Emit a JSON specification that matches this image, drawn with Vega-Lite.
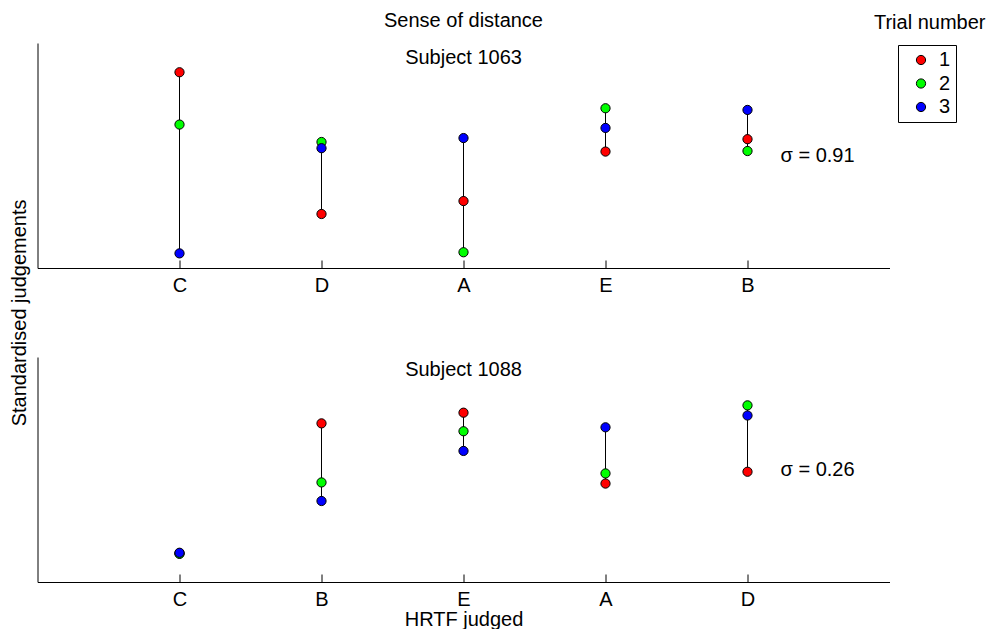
{
  "$schema": "https://vega.github.io/schema/vega-lite/v6.json",
  "padding": {"left": 9.5, "top": 11, "right": 5, "bottom": 5},
  "datasets": {
    "judgements": [
      {"subject": "1063", "hrtf": "C", "trial": "1", "z": 1.48},
      {"subject": "1063", "hrtf": "C", "trial": "2", "z": 0.55},
      {"subject": "1063", "hrtf": "C", "trial": "3", "z": -1.74},
      {"subject": "1063", "hrtf": "D", "trial": "1", "z": -1.04},
      {"subject": "1063", "hrtf": "D", "trial": "2", "z": 0.24},
      {"subject": "1063", "hrtf": "D", "trial": "3", "z": 0.13},
      {"subject": "1063", "hrtf": "A", "trial": "1", "z": -0.81},
      {"subject": "1063", "hrtf": "A", "trial": "2", "z": -1.72},
      {"subject": "1063", "hrtf": "A", "trial": "3", "z": 0.31},
      {"subject": "1063", "hrtf": "E", "trial": "1", "z": 0.07},
      {"subject": "1063", "hrtf": "E", "trial": "2", "z": 0.84},
      {"subject": "1063", "hrtf": "E", "trial": "3", "z": 0.49},
      {"subject": "1063", "hrtf": "B", "trial": "1", "z": 0.29},
      {"subject": "1063", "hrtf": "B", "trial": "2", "z": 0.08},
      {"subject": "1063", "hrtf": "B", "trial": "3", "z": 0.81},
      {"subject": "1088", "hrtf": "C", "trial": "1", "z": -1.49},
      {"subject": "1088", "hrtf": "C", "trial": "2", "z": -1.50},
      {"subject": "1088", "hrtf": "C", "trial": "3", "z": -1.48},
      {"subject": "1088", "hrtf": "B", "trial": "1", "z": 0.82},
      {"subject": "1088", "hrtf": "B", "trial": "2", "z": -0.23},
      {"subject": "1088", "hrtf": "B", "trial": "3", "z": -0.56},
      {"subject": "1088", "hrtf": "E", "trial": "1", "z": 1.01},
      {"subject": "1088", "hrtf": "E", "trial": "2", "z": 0.68},
      {"subject": "1088", "hrtf": "E", "trial": "3", "z": 0.33},
      {"subject": "1088", "hrtf": "A", "trial": "1", "z": -0.25},
      {"subject": "1088", "hrtf": "A", "trial": "2", "z": -0.07},
      {"subject": "1088", "hrtf": "A", "trial": "3", "z": 0.75},
      {"subject": "1088", "hrtf": "D", "trial": "1", "z": -0.04},
      {"subject": "1088", "hrtf": "D", "trial": "2", "z": 1.14},
      {"subject": "1088", "hrtf": "D", "trial": "3", "z": 0.96}
    ],
    "spread": [
      {"subject": "1063", "hrtf": "B", "label": "σ = 0.91"},
      {"subject": "1088", "hrtf": "D", "label": "σ = 0.26"}
    ]
  },
  "title": {"text": "Trial number", "anchor": "end", "dx": 29, "offset": -22},
  "bounds": "flush",
  "spacing": 89,
  "resolve": {"scale": {"color": "shared"}},
  "vconcat": [
    {
      "width": 852,
      "height": 225,
      "title": {"text": "Sense of distance", "subtitle": "Subject 1063", "anchor": "middle", "frame": "group", "subtitlePadding": 17, "offset": -25},
      "encoding": {
        "x": {
          "field": "hrtf", "type": "nominal",
          "sort": ["C", "D", "A", "E", "B"],
          "scale": {"type": "point", "padding": 1},
          "axis": {"title": null, "labelAngle": 0, "tickSize": -8, "labelPadding": 15}
        }
      },
      "layer": [
        {
          "data": {"name": "judgements"},
          "transform": [{"filter": "datum.subject === '1063'"}],
          "mark": {"type": "rule", "color": "black", "strokeWidth": 1},
          "encoding": {
            "y": {
              "aggregate": "min", "field": "z", "type": "quantitative",
              "scale": {"domain": [-2, 2]},
              "axis": {"title": "Standardised judgements", "titleY": 269.4, "labels": false, "ticks": false, "titlePadding": 8}
            },
            "y2": {"aggregate": "max", "field": "z"}
          }
        },
        {
          "data": {"name": "judgements"},
          "transform": [{"filter": "datum.subject === '1063'"}],
          "mark": {"type": "point", "shape": "circle", "filled": true, "size": 85, "stroke": "black", "strokeWidth": 1, "opacity": 1},
          "encoding": {
            "y": {"field": "z", "type": "quantitative"},
            "color": {
              "field": "trial", "type": "nominal",
              "scale": {"domain": ["1", "2", "3"], "range": ["#ff0000", "#00ff00", "#0000ff"]},
              "legend": {
                "title": null, "orient": "none", "legendX": 860.5, "legendY": 2,
                "strokeColor": "black", "padding": 5, "symbolType": "circle", "symbolSize": 85,
                "symbolStrokeColor": "black", "symbolStrokeWidth": 1, "symbolOffset": 8,
                "labelOffset": 8, "labelFontSize": 20, "rowPadding": 3.5
              }
            },
            "order": {"field": "trial"}
          }
        },
        {
          "data": {"name": "spread"},
          "transform": [{"filter": "datum.subject === '1063'"}],
          "mark": {"type": "text", "align": "left", "baseline": "middle", "dx": 33, "fontSize": 20},
          "encoding": {"y": {"datum": 0}, "text": {"field": "label"}}
        }
      ]
    },
    {
      "width": 852,
      "height": 225,
      "title": {"text": "Subject 1088", "anchor": "middle", "frame": "group", "offset": -23},
      "encoding": {
        "x": {
          "field": "hrtf", "type": "nominal",
          "sort": ["C", "B", "E", "A", "D"],
          "scale": {"type": "point", "padding": 1},
          "axis": {"title": "HRTF judged", "labelAngle": 0, "tickSize": -8, "labelPadding": 15, "titlePadding": 0}
        }
      },
      "layer": [
        {
          "data": {"name": "judgements"},
          "transform": [{"filter": "datum.subject === '1088'"}],
          "mark": {"type": "rule", "color": "black", "strokeWidth": 1},
          "encoding": {
            "y": {
              "aggregate": "min", "field": "z", "type": "quantitative",
              "scale": {"domain": [-2, 2]},
              "axis": {"title": null, "labels": false, "ticks": false}
            },
            "y2": {"aggregate": "max", "field": "z"}
          }
        },
        {
          "data": {"name": "judgements"},
          "transform": [{"filter": "datum.subject === '1088'"}],
          "mark": {"type": "point", "shape": "circle", "filled": true, "size": 85, "stroke": "black", "strokeWidth": 1, "opacity": 1},
          "encoding": {
            "y": {"field": "z", "type": "quantitative"},
            "color": {"field": "trial", "type": "nominal"},
            "order": {"field": "trial"}
          }
        },
        {
          "data": {"name": "spread"},
          "transform": [{"filter": "datum.subject === '1088'"}],
          "mark": {"type": "text", "align": "left", "baseline": "middle", "dx": 33, "fontSize": 20},
          "encoding": {"y": {"datum": 0}, "text": {"field": "label"}}
        }
      ]
    }
  ],
  "config": {
    "font": "Liberation Sans",
    "view": {"stroke": null},
    "axis": {
      "grid": false, "domainColor": "black", "tickColor": "black", "labelColor": "black",
      "titleColor": "black", "labelFontSize": 20, "titleFontSize": 20, "titleFontWeight": "normal"
    },
    "legend": {"labelColor": "black"},
    "text": {"color": "black"},
    "title": {"fontSize": 20, "fontWeight": "normal", "color": "black", "subtitleFontSize": 20, "subtitleColor": "black"}
  }
}
